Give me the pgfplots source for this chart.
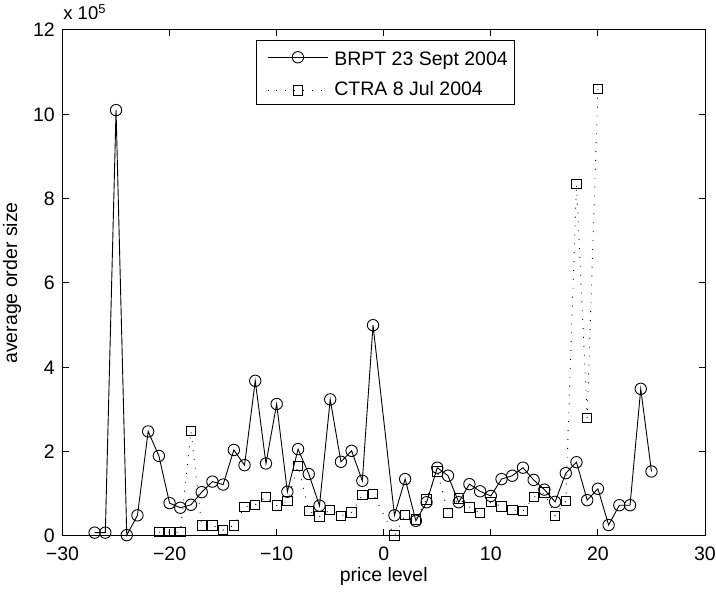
\documentclass[border=0pt]{standalone}
\usepackage{pgfplots}
\pgfplotsset{compat=1.18}
\usepackage{fontspec}
\setmainfont{Liberation Sans}
\newcommand{\mainfs}{\fontsize{19.5}{23}\selectfont}
\begin{document}
\mainfs
\begin{tikzpicture}[font=\mainfs]
\path (-62.5pt,-59pt) rectangle (653.5pt,536pt);
\begin{axis}[
  at={(0,0)}, anchor=south west,
  scale only axis, width=642.5pt, height=506pt,
  xmin=-30, xmax=30, ymin=0, ymax=12,
  xtick={-30,-20,...,30},
  xticklabels={−30,−20,−10,0,10,20,30},
  ytick={0,2,...,12},
  tick align=inside,
  major tick length=6.5pt,
  axis line style={line width=1pt},
  tick style={line width=1pt, black},
  /pgf/number format/assume math mode=true,
  tick label style={font=\mainfs},
  label style={font=\mainfs},
  yticklabel style={inner sep=0pt, anchor=east, xshift=-7.5pt},
  xticklabel style={inner sep=0pt, anchor=base, yshift=-24.7pt},
  xlabel={price level}, ylabel={average order size},
  xlabel style={at={(axis description cs:0.5,-0.0909)}, anchor=base, inner sep=0pt},
  ylabel style={at={(axis description cs:-0.0708,0.5)}, anchor=base, inner sep=0pt},
  legend style={at={(axis description cs:0.3006,0.9802)}, anchor=north west,
    font=\mainfs,
    draw=black, line width=1pt, fill=white, inner xsep=5.6pt, inner ysep=4.6pt,
    row sep=11.4pt, column sep=4.7pt, nodes={inner sep=1pt}},
  legend cell align=left,
  legend image code/.code={\path (0pt,0pt); \draw[mark repeat=2,mark phase=2,#1] plot coordinates {(5.4pt,0pt) (35.7pt,0pt) (66pt,0pt)};},
  clip=false,
]
\addplot[black, line width=0.9pt, mark=o, mark size=5.7pt, mark options={solid, line width=0.9pt}] coordinates {
(-27,0.08) (-26,0.08) (-25,10.1) (-24,0.02) (-23,0.49) (-22,2.48) (-21,1.9) (-20,0.78)
(-19,0.67) (-18,0.74) (-17,1.04) (-16,1.29) (-15,1.22) (-14,2.04) (-13,1.68) (-12,3.68)
(-11,1.72) (-10,3.13) (-9,1.05) (-8,2.06) (-7,1.47) (-6,0.72) (-5,3.24) (-4,1.76)
(-3,2.02) (-2,1.31) (-1,5.0) (1,0.49) (2,1.35) (3,0.36) (4,0.80) (5,1.62) (6,1.43)
(7,0.80) (8,1.23) (9,1.06) (10,0.95) (11,1.35) (12,1.43) (13,1.62) (14,1.33) (15,1.1)
(16,0.81) (17,1.49) (18,1.75) (19,0.85) (20,1.12) (21,0.26) (22,0.73) (23,0.73)
(24,3.49) (25,1.53)
};
\addlegendentry{\rule{0pt}{19.4pt}BRPT 23 Sept 2004}
\addplot[black, line width=0.9pt, dash pattern=on 0.9pt off 8pt, mark=square, mark size=4.7pt, mark options={solid, line width=0.9pt}] coordinates {
(-21,0.09) (-20,0.09) (-19,0.09) (-18,2.49) (-17,0.25) (-16,0.25) (-15,0.14) (-14,0.25)
(-13,0.69) (-12,0.74) (-11,0.93) (-10,0.72) (-9,0.83) (-8,1.66) (-7,0.59) (-6,0.46)
(-5,0.62) (-4,0.48) (-3,0.56) (-2,0.97) (-1,1.0) (1,0.01) (2,0.5) (3,0.39) (4,0.87)
(5,1.53) (6,0.55) (7,0.89) (8,0.68) (9,0.55) (10,0.81) (11,0.70) (12,0.62) (13,0.59)
(14,0.92) (15,1.03) (16,0.48) (17,0.83) (18,8.35) (19,2.8) (20,10.6)
};
\addlegendentry{CTRA 8 Jul 2004}
\node[anchor=base west, inner sep=0pt, font=\fontsize{18.5}{22}\selectfont] at (axis description cs:0.001,1.0198) {x 10\textsuperscript{5}};
\end{axis}
\end{tikzpicture}
\end{document}
